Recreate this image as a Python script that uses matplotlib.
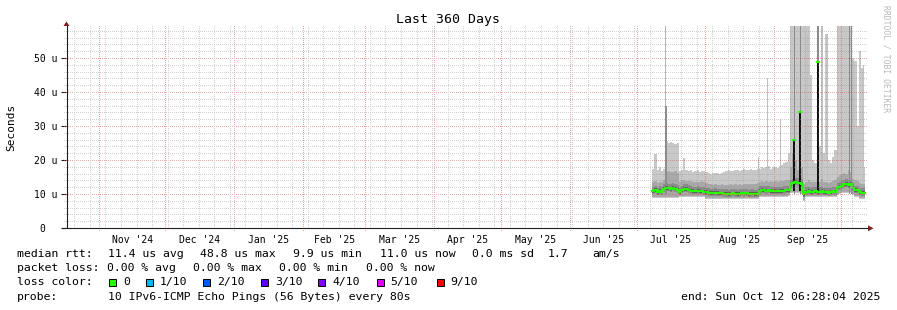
import datetime as dt
import numpy as np
import matplotlib
matplotlib.use("Agg")
import matplotlib.pyplot as plt
import matplotlib.dates as mdates
from matplotlib.lines import Line2D
from matplotlib.patches import Rectangle, Polygon

W, H = 897, 310
start = dt.datetime(2024, 10, 17, 6, 28, 4)
end = dt.datetime(2025, 10, 12, 6, 28, 4)
first_day = dt.datetime(2025, 7, 8)

# daily values from Jul 8 2025, in microseconds
median = [10.8, 11.2, 10.6, 11.0, 10.7, 11.6, 11.8, 11.7, 11.5, 11.8, 11.6, 11.3,
          10.6, 11.2, 11.6, 11.5, 11.3, 11.0, 10.9, 10.8, 11.0, 10.9, 10.8, 10.7,
          10.6, 10.4, 10.3, 10.3, 10.4, 10.3, 10.2, 10.2, 10.1, 10.1, 10.0, 10.1,
          10.2, 10.1, 10.0, 10.1, 10.2, 10.1, 10.2, 10.0, 10.1, 10.1, 10.0, 10.1,
          11.0, 11.2, 11.1, 11.0, 11.1, 10.9, 10.8, 10.9, 10.8, 10.9, 10.9, 11.0,
          11.1, 11.2, 12.8, 13.2, 13.5, 13.3, 13.2, 13.0, 10.0, 10.7, 10.9, 10.6,
          10.7, 10.8, 10.6, 10.7, 10.9, 10.6, 10.5, 10.4, 10.6, 10.8, 10.7, 12.0,
          12.2, 12.5, 12.8, 13.0, 12.7, 12.9, 11.8, 11.2, 11.1, 10.5, 10.4, 10.4]
smoke_low = [8.8, 8.8, 8.8, 8.8, 8.8, 8.8, 8.8, 8.8, 8.8, 8.8, 8.8, 8.8,
             9.0, 9.0, 9.0, 9.0, 9.0, 9.0, 9.0, 9.0, 9.0, 9.0, 9.0, 9.0,
             8.6, 8.4, 8.4, 8.4, 8.4, 8.4, 8.4, 8.4, 8.4, 8.4, 8.4, 8.4,
             8.4, 8.4, 8.4, 8.4, 8.4, 8.4, 8.4, 8.4, 8.4, 8.4, 8.4, 8.4,
             9.2, 9.2, 9.2, 9.2, 9.2, 9.2, 9.2, 9.2, 9.2, 9.2, 9.2, 9.2,
             9.2, 9.3, 10.2, 10.4, 10.4, 10.3, 10.3, 10.0, 7.8, 9.0, 9.2, 9.0,
             9.0, 9.0, 9.0, 9.0, 9.0, 9.0, 9.0, 9.0, 9.0, 9.0, 9.0, 9.8,
             10.0, 10.2, 10.3, 10.4, 10.2, 10.2, 9.6, 9.2, 9.0, 8.6, 8.5, 8.5]
smoke_mid = [13.5, 13.8, 13.2, 13.6, 13.4, 14.0, 16.6, 16.8, 16.5, 16.4, 16.7, 16.3,
             13.6, 14.0, 14.2, 13.9, 13.7, 13.8, 13.5, 13.6, 13.4, 13.5, 13.7, 13.4,
             13.2, 12.8, 12.9, 12.6, 12.8, 12.7, 12.6, 12.8, 12.6, 12.7, 12.6, 12.8,
             12.7, 12.9, 12.6, 12.8, 12.7, 12.9, 12.8, 13.0, 12.9, 12.8, 13.0, 13.2,
             13.6, 13.8, 13.5, 13.9, 13.6, 13.7, 13.5, 13.8, 13.6, 13.9, 13.7, 13.8,
             14.0, 14.2, 18.0, 22.0, 20.0, 17.0, 19.0, 18.0, 13.0, 13.5, 14.0, 13.6,
             13.5, 13.6, 13.8, 13.4, 14.5, 13.6, 13.4, 13.3, 13.6, 13.8, 14.0, 15.0,
             15.5, 16.0, 16.2, 16.0, 17.0, 16.5, 14.5, 14.0, 13.8, 13.2, 13.0, 13.0]
smoke_high = [17.5, 21.8, 17.0, 18.0, 16.8, 17.5, 25.5, 25.0, 25.3, 25.1, 24.8, 25.0,
              16.8, 17.0, 20.6, 17.2, 16.9, 17.1, 16.6, 16.9, 17.0, 16.5, 16.8, 16.7,
              16.4, 16.2, 16.0, 16.3, 16.1, 16.2, 16.0, 16.2, 16.5, 16.8, 17.0, 16.7,
              16.9, 17.2, 17.0, 16.8, 17.1, 17.3, 17.0, 17.2, 17.4, 17.1, 17.0, 17.3,
              17.5, 18.0, 17.6, 17.8, 18.2, 17.5, 17.9, 18.0, 17.7, 18.1, 18.5, 19.0,
              19.5, 22.0, 60.0, 60.0, 60.0, 60.0, 60.0, 60.0, 60.0, 60.0, 60.0, 45.0,
              20.0, 19.0, 21.0, 24.0, 60.0, 22.0, 57.0, 20.0, 19.0, 21.0, 23.0, 60.0,
              60.0, 60.0, 60.0, 60.0, 60.0, 60.0, 50.0, 49.0, 30.0, 52.0, 47.0, 18.0]

# short outliers (day offset from Jul 8, top value)
light_spike_day = [5.9, 47.7, 51.8, 57.6, 69.8, 76.5, 78.8, 90.5, 95.0]
light_spike_top = [60.0, 21.0, 44.0, 32.0, 57.0, 60.0, 57.0, 49.0, 48.0]
mid_spike_day = [5.9, 63.9, 66.4, 74.3, 88.5, 89.3]
mid_spike_top = [36.0, 60.0, 60.0, 60.0, 60.0, 60.0]
median_spike_day = [63.5, 66.2, 74.3]
median_spike_top = [26.0, 34.0, 48.8]

y_ticks = [0, 10, 20, 30, 40, 50]
y_tick_labels = ["0  ", "10 u", "20 u", "30 u", "40 u", "50 u"]
month_labels = ["Nov '24", "Dec '24", "Jan '25", "Feb '25", "Mar '25", "Apr '25",
                "May '25", "Jun '25", "Jul '25", "Aug '25", "Sep '25"]
loss_labels = ["0", "1/10", "2/10", "3/10", "4/10", "5/10", "9/10"]
loss_colors = ["#26ff00", "#00b8ff", "#0059ff", "#5e00ff", "#7e00ff", "#dd00ff", "#ff0000"]

MONO = "DejaVu Sans Mono"
GRID = (0.56, 0.56, 0.56, 0.4)
MGRID = (0.87, 0.31, 0.31, 0.5)
ARROW = "#7f1f1f"
AXIS = "#1f1f1f"


def fx(x):
    return x / W


def fy(y):
    return 1 - y / H


fig = plt.figure(figsize=(W / 100, H / 100), dpi=100, facecolor="white")
ax = fig.add_axes([fx(66), fy(228), 800 / W, 202 / H])
ax.set_facecolor("white")
x0, x1 = mdates.date2num(start), mdates.date2num(end)
ymax = 202 / 3.4
ax.set_xlim(x0, x1)
ax.set_ylim(0, ymax)
for s in ax.spines.values():
    s.set_visible(False)

# smoke
days = mdates.date2num(first_day) + np.arange(len(median) + 1)
med = np.append(median, median[-1])
lo = np.append(smoke_low, smoke_low[-1])
mid = np.append(smoke_mid, smoke_mid[-1])
hi = np.clip(np.append(smoke_high, smoke_high[-1]), 0, ymax)
ax.fill_between(days, lo, hi, step="post", color="#c8c8c8", lw=0, zorder=1)
base = mdates.date2num(first_day)
ax.bar(base + np.array(light_spike_day), np.clip(light_spike_top, 0, ymax) - np.array(10.0),
       bottom=10, width=0.55, color="#c0c0c0", lw=0, zorder=1.2, align="edge")
ax.fill_between(days, lo + 0.3, mid, step="post", color="#a8a8a8", lw=0, zorder=2)
ax.bar(base + np.array(mid_spike_day), np.clip(mid_spike_top, 0, ymax) - np.array(10.0),
       bottom=10, width=0.6, color="#8c8c8c", lw=0, zorder=2.2, align="edge")
ax.fill_between(days, med - 0.9, med + 1.3, step="post", color="#8a8a8a", lw=0, zorder=3)
ax.fill_between(days, med - 0.5, med + 0.5, step="post", color="#5a5a5a", lw=0, zorder=3.5)
ax.bar(base + np.array(median_spike_day), np.array(median_spike_top) - np.array(11.0),
       bottom=11, width=0.6, color="#111111", lw=0, zorder=4, align="edge")
ax.step(days, med, where="post", color=loss_colors[0], lw=1.6, zorder=5)
for d, t in zip(median_spike_day, median_spike_top):
    ax.plot([base + d, base + d + 0.6], [t, t], color=loss_colors[0], lw=1.6, zorder=5)

# dotted grid on top, painted pixel by pixel like rrdtool
months = [dt.datetime(2024 + (10 + i) // 12, (10 + i) % 12 + 1, 1) for i in range(12)]
weeks = []
wk = start + dt.timedelta(days=(7 - start.weekday()) % 7)
wk = dt.datetime(wk.year, wk.month, wk.day)
while wk < end:
    if wk.day != 1:
        weeks.append(wk)
    wk += dt.timedelta(days=7)

grid = np.zeros((H, W, 4))
left_px, right_px, bottom_px, top_px = 64, 868, 230, 26


def px_x(v):
    return int(round(ax.transData.transform((v, 0))[0]))


def px_y(v):
    return int(round(H - ax.transData.transform((x0, v))[1]))


for v in np.arange(2, 60, 2):
    color = MGRID if v % 10 == 0 else GRID
    r = px_y(v)
    grid[r, left_px:right_px:2] = color
for w in weeks:
    c = px_x(mdates.date2num(w))
    grid[top_px:bottom_px:2, c] = GRID
for m in months:
    c = px_x(mdates.date2num(m))
    if 66 < c < 867:
        grid[top_px:bottom_px + 2:2, c] = MGRID
fig.figimage(grid, xo=0, yo=0, zorder=5, origin="upper")

ax.set_yticks(y_ticks)
ax.set_yticklabels(y_tick_labels, family=MONO, fontsize=7)
ax.tick_params(axis="y", length=3.5, width=0.8, color=AXIS, pad=2.5)
mids = [mdates.date2num(months[i]) + (mdates.date2num(months[i + 1]) - mdates.date2num(months[i])) / 2
        for i in range(11)]
ax.set_xticks(mids)
ax.set_xticklabels(month_labels, family=MONO, fontsize=7)
ax.tick_params(axis="x", length=0, pad=5)

# axes with arrows
fig.add_artist(Line2D([fx(66.5), fx(66.5)], [fy(228), fy(25)], color=AXIS, lw=0.8, zorder=6))
fig.add_artist(Line2D([fx(62), fx(868)], [fy(228.3), fy(228.3)], color=AXIS, lw=0.8, zorder=6))
fig.add_artist(Polygon([[fx(63.5), fy(26)], [fx(69.5), fy(26)], [fx(66.5), fy(21.5)]],
                       closed=True, color=ARROW, lw=0, zorder=6))
fig.add_artist(Polygon([[fx(868), fy(225.3)], [fx(868), fy(231.3)], [fx(873.5), fy(228.3)]],
                       closed=True, color=ARROW, lw=0, zorder=6))

fig.text(fx(448), fy(19), "Last 360 Days", family=MONO, fontsize=9.5, ha="center", va="center")
fig.text(fx(11), fy(127), "Seconds", family=MONO, fontsize=8, rotation=90, ha="center", va="center")
fig.text(fx(886), fy(5), "RRDTOOL / TOBI OETIKER", family=MONO, fontsize=5.8, rotation=270,
         ha="center", va="top", color="#b8b8b8")

# legend
fs = 8.25
rows = [
    (254, [(16.7, "median rtt:"), (107.7, "11.4 us avg"), (200, "48.8 us max"), (293, "9.9 us min"),
           (380, "11.0 us now"), (471.7, "0.0 ms sd"), (547.5, "1.7"), (592.7, "am/s")]),
    (268, [(16.7, "packet loss:"), (107.3, "0.00 % avg"), (193.3, "0.00 % max"),
           (279.3, "0.00 % min"), (365.7, "0.00 % now")]),
    (282, [(16.7, "loss color:")]),
    (296.5, [(16.7, "probe:"), (107.7, "10 IPv6-ICMP Echo Pings (56 Bytes) every 80s")]),
]
for y, parts in rows:
    for x, s in parts:
        fig.text(fx(x), fy(y), s, family=MONO, fontsize=fs, ha="left", va="center")
box_x = [109, 146, 203.3, 261, 318.3, 376.7, 436.7]
for bx, lab, c in zip(box_x, loss_labels, loss_colors):
    fig.add_artist(Rectangle((fx(bx), fy(285.5)), 7 / W, 7 / H, facecolor=c, edgecolor="black", lw=0.7))
    fig.text(fx(bx + 14), fy(282), lab, family=MONO, fontsize=fs, ha="left", va="center")
fig.text(fx(880), fy(296.5), "end: Sun Oct 12 06:28:04 2025", family=MONO, fontsize=fs,
         ha="right", va="center")

fig.savefig("out.png", dpi=100, facecolor="white")
